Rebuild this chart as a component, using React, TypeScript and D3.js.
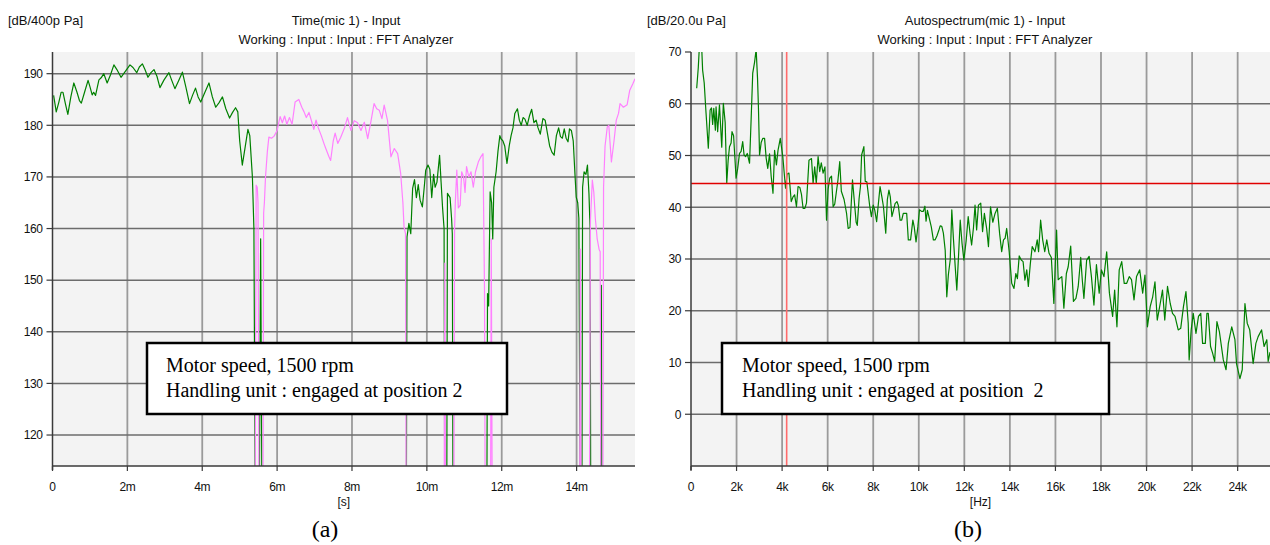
import React from "react";
import * as d3 from "d3";

// ---------- data ----------
// Panel (a): time signal, time in ms, level in dB/400pPa. null = gap in trace, 100 = dropout below axis
const greenTrace: [number, number | null][] = [
  [0.03,185.8],[0.1,182.6],[0.17,184.5],[0.23,186.4],[0.28,186.4],[0.35,184],[0.41,182.1],[0.49,185.5],[0.57,188.2],[0.65,186.5],
  [0.72,184.8],[0.77,184.3],[0.86,186.5],[0.95,188.7],[1.0,187.5],[1.06,185.9],[1.1,186.4],[1.15,185.8],[1.24,188.8],[1.3,189.2],
  [1.37,190],[1.46,188.2],[1.55,189.8],[1.64,191.7],[1.72,190.8],[1.83,189.3],[1.95,190.5],[2.07,191.7],[2.15,191.2],[2.25,190.2],
  [2.32,191.3],[2.4,191.9],[2.47,190.8],[2.55,189.3],[2.63,190.2],[2.71,190.8],[2.79,189.5],[2.87,187.3],[2.98,188.8],[3.11,190.2],
  [3.18,188.8],[3.27,187.1],[3.36,188.5],[3.47,190.3],[3.56,187.5],[3.66,184.2],[3.74,185.8],[3.82,187.2],[3.89,185.5],[3.96,184.5],
  [4.06,186.2],[4.18,188.2],[4.27,185.5],[4.36,183.5],[4.45,184.4],[4.54,185.5],[4.63,183.2],[4.73,181.4],[4.81,182.5],[4.89,183.4],
  [4.95,182.6],[5.0,177],[5.07,172.3],[5.14,175.5],[5.22,179.2],[5.27,178],[5.34,170],[5.38,160],[5.42,100],
  [5.47,null],
  [5.52,100],[5.56,158],[5.6,100],
  [7.0,null],
  [9.45,100],[9.47,158.4],[9.52,161],[9.57,159],[9.62,167.8],[9.67,169.5],[9.72,166],[9.77,168.5],[9.82,165.5],[9.88,164.2],
  [9.93,168],[9.97,171.3],[10.03,172.3],[10.08,171.5],[10.13,166],[10.18,170.5],[10.22,168],[10.27,169],[10.34,174.2],[10.38,169],
  [10.42,164],[10.46,160],[10.48,100],[10.53,100],[10.55,166.8],[10.62,166],[10.66,162],[10.68,159],[10.7,100],
  [11.0,null],
  [11.6,100],[11.62,147.4],[11.65,145],[11.69,167.1],[11.73,165],[11.76,158],[11.79,168],[11.85,171],[11.9,175],[11.95,178],
  [11.98,177.4],[12.03,177],[12.08,176],[12.14,172.6],[12.2,176],[12.25,178],[12.3,179.5],[12.35,182.3],[12.42,183.2],[12.47,181],
  [12.52,180],[12.57,181.5],[12.62,181.2],[12.68,180],[12.74,181.8],[12.8,183.1],[12.86,180.5],[12.92,181],[12.97,179.5],[13.03,178.3],
  [13.1,181.3],[13.16,181],[13.22,178.5],[13.28,176],[13.34,174.8],[13.4,174.2],[13.46,178],[13.52,179.5],[13.57,177.8],[13.62,177.5],
  [13.67,179.3],[13.72,177.5],[13.77,176.8],[13.81,179.3],[13.86,179],[13.91,177],[13.96,170],[13.99,166.1],[14.03,165],[14.06,162],
  [14.1,100],[14.12,null],
  [14.14,100],[14.16,168],[14.2,171],[14.25,170.5],[14.29,172.3],[14.33,166.8],[14.36,160],[14.38,100],
  [14.5,null],
  [14.64,100],[14.66,149],[14.68,100],
];

const pinkTrace: [number, number | null][] = [
  [5.41,100],[5.44,168.4],[5.47,168],[5.49,165],[5.52,100],[5.62,100],[5.64,163],[5.66,165],[5.69,170],[5.74,175],
  [5.78,177.7],[5.85,177.5],[5.92,177.9],[6.0,179],[6.08,181.7],[6.14,180.5],[6.2,181.8],[6.26,180.2],[6.33,181.5],[6.4,180.2],
  [6.48,184.5],[6.58,185],[6.66,183.5],[6.72,182.6],[6.78,181.5],[6.85,182.5],[6.92,180.8],[6.98,179.2],[7.04,181],[7.1,179.5],
  [7.18,178],[7.25,176.5],[7.3,175.5],[7.38,174],[7.43,173.2],[7.5,177],[7.55,178.5],[7.62,176.5],[7.7,177.7],[7.8,179.5],
  [7.88,181.5],[7.97,179],[8.06,180.9],[8.15,180.5],[8.24,179],[8.33,180.6],[8.42,177.4],[8.51,180.9],[8.59,184.2],[8.66,183.2],
  [8.73,182.9],[8.8,181.3],[8.86,183.9],[8.95,180.9],[9.04,173.9],[9.13,175.5],[9.22,174.5],[9.3,170.7],[9.36,165],[9.39,160.3],
  [9.43,159],[9.45,100],
  [10.0,null],
  [10.46,100],[10.48,153.3],[10.5,100],
  [10.6,null],
  [10.72,100],[10.74,159.7],[10.76,165],[10.8,171.3],[10.84,164],[10.89,164.5],[10.93,171],[10.98,170],[11.02,167],[11.06,172],
  [11.12,170],[11.18,171],[11.24,168],[11.3,171],[11.38,173],[11.45,174],[11.5,174.5],[11.54,148],[11.56,100],
  [11.65,null],
  [11.7,100],[11.72,158],[11.75,100],
  [13.0,null],
  [14.08,100],[14.1,156],[14.12,100],
  [14.2,null],
  [14.34,100],[14.37,161.6],[14.42,169.4],[14.46,167],[14.5,162],[14.55,158],[14.6,156],[14.63,155.5],[14.65,100],[14.7,100],
  [14.72,168],[14.76,176],[14.82,179.7],[14.86,180],[14.93,172.9],[15.0,177],[15.06,181],[15.12,182.3],[15.16,184.2],[15.25,183.5],
  [15.35,184],[15.42,186.8],[15.5,188],[15.56,189],
];

// Panel (b): autospectrum, frequency in kHz, level in dB/20.0uPa
const spectrum: [number, number][] = [
  [0.25,63],[0.32,67],[0.38,72],[0.45,73],[0.51,66.5],[0.58,64],[0.66,58.2],[0.76,51.4],[0.84,58.8],[0.9,59.2],
  [0.95,56],[1.0,59.1],[1.07,54.9],[1.1,59.4],[1.17,54.6],[1.25,59.8],[1.35,51.6],[1.42,60.1],[1.5,56.4],[1.57,44.7],
  [1.63,49],[1.69,51.7],[1.76,52.4],[1.8,54.6],[1.87,53.8],[1.92,50],[1.98,45.6],[2.05,47.5],[2.13,50.4],[2.2,50.8],
  [2.27,52.7],[2.33,50.1],[2.4,49.8],[2.47,50.4],[2.57,48.5],[2.64,57],[2.71,65.9],[2.79,68],[2.86,70.5],[2.92,65],
  [2.96,59.4],[3.01,50.1],[3.08,52.5],[3.15,53.3],[3.23,53.3],[3.3,49.5],[3.37,47.5],[3.45,50.3],[3.52,46],[3.6,42.7],
  [3.67,51],[3.75,48.2],[3.82,51],[3.92,53.3],[4.03,49.8],[4.15,43.7],[4.22,46.4],[4.3,46.6],[4.4,41.1],[4.48,42],
  [4.55,42.4],[4.63,40.1],[4.7,44],[4.78,43.8],[4.85,42.5],[4.92,39.8],[5.0,39.8],[5.07,40.8],[5.18,49.1],[5.29,49.4],
  [5.36,44.6],[5.43,47.8],[5.5,44.6],[5.58,49.8],[5.65,46.9],[5.72,48.6],[5.8,46.6],[5.88,47.8],[5.95,37.5],[6.02,43.5],
  [6.09,45.6],[6.17,46],[6.24,40.1],[6.31,40.6],[6.38,42.9],[6.45,45.2],[6.53,48.8],[6.6,43.1],[6.72,41.5],[6.83,38.8],
  [6.9,35.9],[6.98,36.1],[7.09,45.3],[7.25,37.1],[7.3,36.5],[7.38,41.7],[7.44,44],[7.49,50.1],[7.59,51.7],[7.65,45],
  [7.72,44.9],[7.85,40.1],[7.92,38.2],[8.0,40.4],[8.07,39.4],[8.15,37.2],[8.22,40.4],[8.3,44],[8.38,42],[8.45,40.1],
  [8.55,35],[8.62,41.5],[8.69,43.3],[8.75,42],[8.82,38.2],[8.89,39.4],[8.96,40.7],[9.04,41.1],[9.1,40.4],[9.18,37.5],
  [9.25,37.5],[9.32,38.8],[9.4,38.8],[9.47,38.8],[9.54,33.7],[9.64,33.7],[9.74,37.5],[9.8,36.2],[9.88,33.3],[9.96,36.2],
  [10.03,39.5],[10.12,39.2],[10.2,39.2],[10.27,40.2],[10.32,37.3],[10.38,39.4],[10.45,38.1],[10.55,36.2],[10.64,33.7],[10.72,33.7],
  [10.8,34.5],[10.87,35.4],[10.94,36.4],[11.01,36.3],[11.08,35],[11.16,31.7],[11.23,22.7],[11.3,27],[11.38,29.8],[11.45,39.5],
  [11.52,34],[11.6,28.5],[11.67,24],[11.75,31],[11.82,37.5],[11.9,33],[11.98,29.8],[12.08,33.5],[12.17,38.2],[12.25,35],
  [12.32,32.7],[12.4,36],[12.47,40.4],[12.54,35.6],[12.62,40.4],[12.72,40.8],[12.8,35.3],[12.88,38.8],[12.98,35.9],[13.06,32.4],
  [13.15,40.1],[13.25,37.1],[13.35,38.8],[13.45,39.8],[13.55,34.9],[13.64,31.4],[13.72,33.7],[13.79,34],[13.86,35.9],[13.97,31.4],
  [14.08,25.3],[14.18,24.3],[14.26,27.2],[14.33,26.2],[14.41,30.6],[14.5,29.8],[14.58,29.5],[14.66,25.9],[14.74,27.9],[14.81,24.7],
  [14.9,29.2],[14.98,32.4],[15.1,31.4],[15.2,33.7],[15.26,31.4],[15.35,37.5],[15.44,33.7],[15.53,31.4],[15.62,33.7],[15.72,31.1],
  [15.82,30.3],[15.93,21.4],[16.05,35.6],[16.12,26],[16.2,26.3],[16.28,26.6],[16.37,20.5],[16.48,27.2],[16.56,28.5],[16.67,32.5],
  [16.79,21.8],[16.9,22.4],[17.0,24.7],[17.11,30.3],[17.18,25.9],[17.25,22.4],[17.37,29.8],[17.48,30.5],[17.58,26.6],[17.69,21.1],
  [17.8,28.9],[17.92,23.4],[18.02,27.9],[18.13,26.6],[18.25,31.4],[18.37,23.4],[18.51,18.9],[18.6,24],[18.7,16.9],[18.8,27.9],
  [18.91,29.5],[19.02,25.3],[19.13,25.3],[19.24,26.6],[19.34,26],[19.45,22.1],[19.56,26.6],[19.7,27.9],[19.83,23.4],[19.93,26.9],
  [20.04,16.9],[20.16,20.8],[20.27,22.7],[20.37,25.6],[20.47,18.2],[20.6,21.4],[20.7,24],[20.8,18.2],[20.92,24.7],[21.04,21.4],
  [21.14,19.5],[21.25,18.9],[21.39,16.3],[21.5,16.6],[21.62,20.8],[21.73,23.7],[21.83,17.6],[21.87,10.5],[21.96,16.3],[22.05,19.5],
  [22.17,15.6],[22.28,18.9],[22.38,19.5],[22.46,13.7],[22.58,13.7],[22.65,19.5],[22.71,19.5],[22.81,13.1],[22.9,11.8],[22.99,10.2],
  [23.09,17.9],[23.2,15.9],[23.37,10.5],[23.49,8.6],[23.59,13.7],[23.74,16.9],[23.88,14.4],[23.95,9.8],[24.1,6.9],[24.2,8.6],
  [24.32,21.4],[24.42,17.6],[24.53,16.3],[24.68,9.8],[24.8,13.7],[24.9,15],[25.05,16.3],[25.16,13.1],[25.28,14.4],[25.34,10.2],[25.42,12],
];

const timeTicks = [0, 2, 4, 6, 8, 10, 12, 14];
const levelTicksA = [120, 130, 140, 150, 160, 170, 180, 190];
const freqTicks = [0, 2, 4, 6, 8, 10, 12, 14, 16, 18, 20, 22, 24];
const levelTicksB = [0, 10, 20, 30, 40, 50, 60, 70];
const cursorFreq = 4.2;
const cursorLevel = 44.6;

const SANS = "'Liberation Sans', Arial, sans-serif";
const SERIF = "'Liberation Serif', 'Times New Roman', serif";

type PanelProps = {
  id: string;
  xr: [number, number];
  yr: [number, number];
  xd: [number, number];
  yd: [number, number];
  xTicks: number[];
  yTicks: number[];
  suffix: string;
  unit: string;
  title: string;
  axisName: string;
  caption: string;
  captionX: number;
  unitX: number;
  titleX: number;
  box: { x: number; w: number; tx: number; line2: string };
  series: { data: [number, number | null][]; color: string }[];
  cursor?: { f: number; l: number };
  gridSkipTop?: boolean;
};

function Panel(p: PanelProps) {
  const x = d3.scaleLinear().domain(p.xd).range(p.xr);
  const y = d3.scaleLinear().domain(p.yd).range(p.yr);
  const [x0, x1] = p.xr;
  const [y1, y0] = p.yr; // y1 bottom, y0 top
  const line = d3
    .line<[number, number | null]>()
    .defined((d) => d[1] != null)
    .x((d) => x(d[0]))
    .y((d) => y(d[1] as number));
  const label = (v: number) => (v === 0 ? "0" : `${v}${p.suffix}`);
  return (
    <g>
      <defs>
        <clipPath id={p.id}>
          <rect x={x0} y={y0} width={x1 - x0} height={y1 - y0} />
        </clipPath>
      </defs>
      <rect x={x0} y={y0} width={x1 - x0} height={y1 - y0} fill="#f3f3f3" />
      {/* grid */}
      {p.xTicks.filter((v) => v !== 0).map((v) => (
        <line key={"gx" + v} x1={x(v)} x2={x(v)} y1={y0} y2={y1} stroke="#9a9a9a" strokeWidth={1.8} />
      ))}
      {p.yTicks.filter((v) => !(p.gridSkipTop && v === p.yd[1])).map((v) => (
        <line key={"gy" + v} x1={x0} x2={x1} y1={y(v)} y2={y(v)} stroke="#6c6c6c" strokeWidth={1.5} />
      ))}
      {/* series */}
      <g clipPath={`url(#${p.id})`}>
        {p.series.map((s, i) => (
          <path key={i} d={line(s.data) || ""} fill="none" stroke={s.color} strokeWidth={1.2} strokeLinejoin="round" />
        ))}
        {p.cursor && (
          <g>
            <line x1={x(p.cursor.f)} x2={x(p.cursor.f)} y1={y0} y2={y1} stroke="#ff6b6b" strokeWidth={1.6} />
            <line x1={x0} x2={x1} y1={y(p.cursor.l)} y2={y(p.cursor.l)} stroke="#e00000" strokeWidth={1.4} />
          </g>
        )}
      </g>
      {/* axes */}
      <line x1={x0} x2={x0} y1={y0} y2={y1 + 4} stroke="#3a3a3a" strokeWidth={1.5} />
      <line x1={x0} x2={x1} y1={y1} y2={y1} stroke="#3a3a3a" strokeWidth={1.5} />
      {p.yTicks.map((v) => (
        <g key={"ty" + v}>
          <line x1={x0 - 6} x2={x0} y1={y(v)} y2={y(v)} stroke="#3a3a3a" strokeWidth={1.2} />
          <text x={x0 - 10} y={y(v)} dy="0.36em" textAnchor="end" fontFamily={SANS} fontSize={12} letterSpacing={-0.4} fill="#111">
            {v}
          </text>
        </g>
      ))}
      {p.xTicks.map((v) => (
        <g key={"tx" + v}>
          <line x1={x(v)} x2={x(v)} y1={y1} y2={y1 + 5} stroke="#3a3a3a" strokeWidth={1.2} />
          <text x={x(v)} y={y1 + 25} textAnchor="middle" fontFamily={SANS} fontSize={12} letterSpacing={-0.4} fill="#111">
            {label(v)}
          </text>
        </g>
      ))}
      <text x={(x0 + x1) / 2 + 0} y={y1 + 40} textAnchor="middle" fontFamily={SANS} fontSize={12} fill="#111">
        {p.axisName}
      </text>
      {/* header */}
      <text x={p.unitX} y={25} fontFamily={SANS} fontSize={13} fill="#111">{p.unit}</text>
      <text x={p.titleX} y={25} textAnchor="middle" fontFamily={SANS} fontSize={13} fill="#111">{p.title}</text>
      <text x={p.titleX} y={44} textAnchor="middle" fontFamily={SANS} fontSize={13} fill="#111">
        Working : Input : Input : FFT Analyzer
      </text>
      {/* annotation box */}
      <rect x={p.box.x} y={343} width={p.box.w} height={71} fill="#ffffff" stroke="#000" strokeWidth={2.5} />
      <text x={p.box.tx} y={372} fontFamily={SERIF} fontSize={20} fill="#000">Motor speed, 1500 rpm</text>
      <text x={p.box.tx} y={397} fontFamily={SERIF} fontSize={20} fill="#000" style={{ whiteSpace: "pre" }}>{p.box.line2}</text>
      {/* caption */}
      <text x={p.captionX} y={537} textAnchor="middle" fontFamily={SERIF} fontSize={24} fill="#000">{p.caption}</text>
    </g>
  );
}

export default function App() {
  return (
    <svg width={1270} height={545} style={{ position: "absolute", left: 0, top: 0, display: "block", background: "#fff" }}>
      <Panel
        id="clipA"
        xr={[52.5, 635]}
        yr={[466, 52]}
        xd={[0, 15.56]}
        yd={[114, 194.2]}
        xTicks={timeTicks}
        yTicks={levelTicksA}
        suffix="m"
        unit="[dB/400p Pa]"
        title="Time(mic 1) - Input"
        axisName="[s]"
        caption="(a)"
        captionX={325}
        unitX={8}
        titleX={346}
        box={{ x: 147, w: 360, tx: 166, line2: "Handling unit : engaged at position 2" }}
        series={[
          { data: greenTrace, color: "#008000" },
          { data: pinkTrace, color: "#ff80ff" },
        ]}
      />
      <Panel
        id="clipB"
        xr={[691, 1270]}
        yr={[466, 52]}
        xd={[0, 25.42]}
        yd={[-10, 70]}
        xTicks={freqTicks}
        yTicks={levelTicksB}
        suffix="k"
        unit="[dB/20.0u Pa]"
        title="Autospectrum(mic 1) - Input"
        axisName="[Hz]"
        caption="(b)"
        captionX={968}
        unitX={647}
        titleX={985}
        box={{ x: 722, w: 387, tx: 742, line2: "Handling unit : engaged at position  2" }}
        series={[{ data: spectrum, color: "#008000" }]}
        cursor={{ f: cursorFreq, l: cursorLevel }}
        gridSkipTop
      />
    </svg>
  );
}
